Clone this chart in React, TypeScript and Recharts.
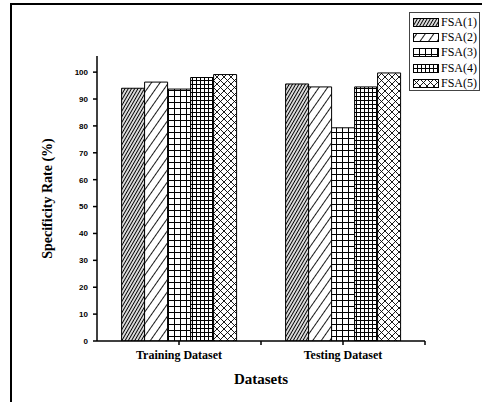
import { BarChart, Bar, XAxis, YAxis } from "recharts";

const datasets = ["Training Dataset", "Testing Dataset"];
const seriesNames = ["FSA(1)", "FSA(2)", "FSA(3)", "FSA(4)", "FSA(5)"];
const fsa1 = [94.0, 95.6];
const fsa2 = [96.3, 94.5];
const fsa3 = [93.7, 79.3];
const fsa4 = [98.0, 94.5];
const fsa5 = [99.1, 99.7];
const yTicks = [0, 10, 20, 30, 40, 50, 60, 70, 80, 90, 100];

const seriesValues = [fsa1, fsa2, fsa3, fsa4, fsa5];
const patternIds = ["hatchDense", "hatchWide", "gridWide", "gridDense", "crossHatch"];

const data = datasets.map((name, i) => {
  const row: Record<string, string | number> = { name };
  seriesNames.forEach((s, j) => (row[s] = seriesValues[j][i]));
  return row;
});

const SERIF = '"Liberation Serif", "Times New Roman", serif';
const SANS = '"Liberation Sans", Arial, sans-serif';
const TICK_SIZE = 4;
const TICK_MARGIN = 5;

// fill patterns, shared by bars and legend swatches
function Patterns() {
  return (
    <svg width={0} height={0} style={{ position: "absolute" }}>
      <defs>
        <pattern id="hatchDense" patternUnits="userSpaceOnUse" width={2.8} height={6} patternTransform="rotate(30)">
          <rect width={2.8} height={6} fill="#fff" />
          <line x1={1.4} y1={0} x2={1.4} y2={6} stroke="#000" strokeWidth={1.2} />
        </pattern>
        <pattern id="hatchWide" patternUnits="userSpaceOnUse" width={7} height={8} patternTransform="rotate(35)">
          <rect width={7} height={8} fill="#fff" />
          <line x1={3.5} y1={0} x2={3.5} y2={8} stroke="#000" strokeWidth={0.9} />
        </pattern>
        <pattern id="gridWide" patternUnits="userSpaceOnUse" width={6} height={6}>
          <rect width={6} height={6} fill="#fff" />
          <path d="M0.5 0 V6 M0 0.5 H6" stroke="#000" strokeWidth={1} fill="none" />
        </pattern>
        <pattern id="gridDense" patternUnits="userSpaceOnUse" width={4} height={4}>
          <rect width={4} height={4} fill="#fff" />
          <path d="M0.5 0 V4 M0 0.5 H4" stroke="#000" strokeWidth={1} fill="none" />
        </pattern>
        <pattern id="crossHatch" patternUnits="userSpaceOnUse" width={7} height={7}>
          <rect width={7} height={7} fill="#fff" />
          <path d="M0 0 L7 7 M7 0 L0 7" stroke="#000" strokeWidth={0.9} fill="none" />
        </pattern>
      </defs>
    </svg>
  );
}

// category label plus the tick at the right edge of each category band
function DatasetTick({ x, y, payload }: any) {
  const edge = x + (payload.offset ?? 0);
  const axisY = y - TICK_SIZE - TICK_MARGIN;
  return (
    <g>
      <line x1={edge} y1={axisY} x2={edge} y2={axisY + TICK_SIZE} stroke="#000" strokeWidth={1.5} />
      <text
        x={x}
        y={y + 9}
        textAnchor="middle"
        fontFamily={SERIF}
        fontSize={12}
        fontWeight="bold"
        fill="#000"
      >
        {payload.value}
      </text>
    </g>
  );
}

function ChartLegend() {
  return (
    <div
      style={{
        position: "absolute",
        left: 409,
        top: 12,
        width: 71,
        height: 79,
        border: "1px solid #444",
        boxSizing: "border-box",
        paddingTop: 2,
      }}
    >
      {seriesNames.map((name, i) => (
        <div key={name} style={{ display: "flex", alignItems: "center", height: 15.2 }}>
          <svg width={26} height={9} style={{ marginLeft: 3, marginRight: 2 }}>
            <rect x={0.5} y={0.5} width={25} height={8} fill={`url(#${patternIds[i]})`} stroke="#000" />
          </svg>
          <span style={{ fontFamily: SERIF, fontSize: 12, color: "#000", whiteSpace: "nowrap" }}>{name}</span>
        </div>
      ))}
    </div>
  );
}

export default function App() {
  return (
    <div style={{ position: "absolute", left: 0, top: 0, width: 482, height: 402, background: "#fff", overflow: "hidden" }}>
      <Patterns />
      {/* frame of the original figure */}
      <div
        style={{
          position: "absolute",
          left: 10,
          top: 3,
          width: 500,
          height: 420,
          borderTop: "2px solid #000",
          borderLeft: "2px solid #000",
        }}
      />
      <div style={{ position: "absolute", left: 0, top: 0 }}>
        <BarChart
          width={482}
          height={402}
          data={data}
          margin={{ top: 56, right: 57, bottom: 21, left: 0 }}
          barCategoryGap="15%"
          barGap={0}
        >
          <XAxis
            dataKey="name"
            height={40}
            stroke="#000"
            strokeWidth={1.5}
            tickSize={TICK_SIZE}
            tickMargin={TICK_MARGIN}
            interval={0}
            tick={<DatasetTick />}
            label={{
              content: ({ viewBox }: any) => (
                <text
                  x={viewBox.x + viewBox.width / 2}
                  y={viewBox.y + 43}
                  textAnchor="middle"
                  fontFamily={SERIF}
                  fontSize={15}
                  fontWeight="bold"
                  fill="#000"
                >
                  Datasets
                </text>
              ),
            }}
          />
          <YAxis
            width={97}
            domain={[0, 106]}
            ticks={yTicks}
            allowDataOverflow
            stroke="#000"
            strokeWidth={1.5}
            tickSize={TICK_SIZE}
            tickMargin={TICK_MARGIN}
            tick={{ fontFamily: SANS, fontSize: 8, fontWeight: "bold", fill: "#000" }}
            label={{
              content: ({ viewBox }: any) => {
                const cx = viewBox.x + 47;
                const cy = viewBox.y + viewBox.height / 2;
                return (
                  <text
                    x={cx}
                    y={cy}
                    transform={`rotate(-90 ${cx} ${cy})`}
                    textAnchor="middle"
                    dominantBaseline="central"
                    fontFamily={SERIF}
                    fontSize={14}
                    fontWeight="bold"
                    fill="#000"
                  >
                    Specificity Rate (%)
                  </text>
                );
              },
            }}
          />
          {seriesNames.map((s, i) => (
            <Bar
              key={s}
              dataKey={s}
              fill={`url(#${patternIds[i]})`}
              stroke="#000"
              strokeWidth={1}
              isAnimationActive={false}
            />
          ))}
        </BarChart>
      </div>
      <ChartLegend />
    </div>
  );
}
